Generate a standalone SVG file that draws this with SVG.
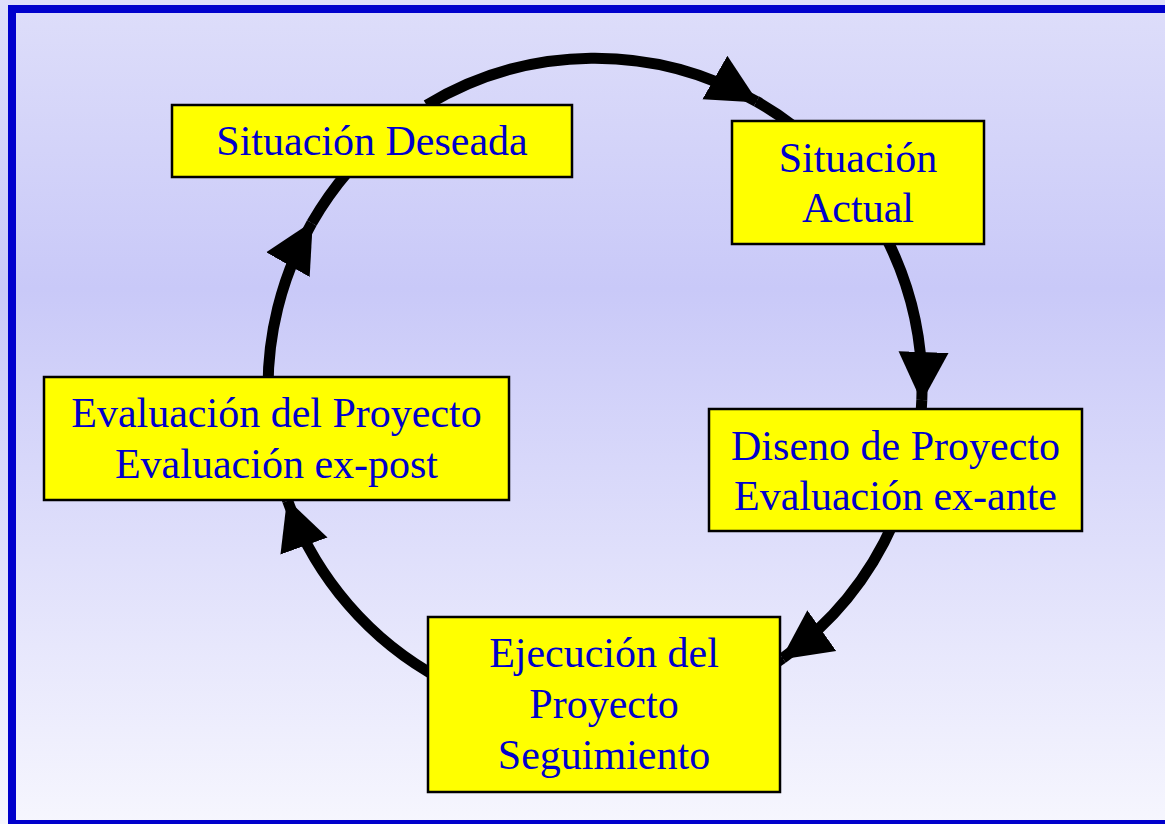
<svg xmlns="http://www.w3.org/2000/svg" width="1165" height="824" viewBox="0 0 1165 824">
  <defs>
    <linearGradient id="bg" x1="0" y1="0" x2="0" y2="1">
      <stop offset="0" stop-color="#dedefa"/>
      <stop offset="0.35" stop-color="#c9c9f8"/>
      <stop offset="1" stop-color="#f6f6fe"/>
    </linearGradient>
    <marker id="ah" markerUnits="userSpaceOnUse" markerWidth="52" markerHeight="52" viewBox="0 0 52 52" refX="48" refY="26" orient="auto">
      <path d="M0,1 L50,26 L0,51 Z" fill="#000"/>
    </marker>
    <style>
      .edge { fill: none; stroke: #000; stroke-width: 11; }
      .box { fill: #ffff00; stroke: #000; stroke-width: 2.5; }
      .lbl { font-family: "Liberation Serif", "Times New Roman", serif; font-size: 42px; fill: #0000cc; text-anchor: middle; }
    </style>
  </defs>
  <rect x="0" y="0" width="1165" height="824" fill="url(#bg)"/>
  <rect x="12" y="9" width="1160" height="815" fill="none" stroke="#0000cc" stroke-width="8"/>

  <g id="connectors">
    <g id="e1">
      <path class="edge" d="M426.6,105.1 A327,330 0 0 1 756.5,101.4" marker-end="url(#ah)"/>
      <path class="edge" d="M756.5,101.4 A327,330 0 0 1 796.3,128.0"/>
    </g>
    <g id="e2">
      <path class="edge" d="M886.4,238.2 A327,330 0 0 1 921.8,400.0" marker-end="url(#ah)"/>
      <path class="edge" d="M921.8,400.0 A327,330 0 0 1 920.2,422.5"/>
    </g>
    <g id="e3">
      <path class="edge" d="M893.7,522.2 A327,330 0 0 1 782.6,658.3" marker-end="url(#ah)"/>
      <path class="edge" d="M782.6,658.3 A327,330 0 0 1 768.3,667.9"/>
    </g>
    <g id="e4">
      <path class="edge" d="M441.5,679.4 A327,330 0 0 1 287.7,500.9" marker-end="url(#ah)"/>
      <path class="edge" d="M287.7,500.9 A327,330 0 0 1 280.7,479.0"/>
    </g>
    <g id="e5">
      <path class="edge" d="M268.2,399.5 A327,330 0 0 1 311.8,223.0" marker-end="url(#ah)"/>
      <path class="edge" d="M311.8,223.0 A327,330 0 0 1 393.7,128.0"/>
    </g>
  </g>

  <g id="n-deseada">
    <rect class="box" x="172" y="105" width="400" height="72"/>
    <text class="lbl" x="372" y="155">Situación Deseada</text>
  </g>
  <g id="n-actual">
    <rect class="box" x="732" y="121" width="252" height="123"/>
    <text class="lbl" x="858" y="172">Situación</text>
    <text class="lbl" x="858" y="222">Actual</text>
  </g>
  <g id="n-diseno">
    <rect class="box" x="709" y="409" width="373" height="122"/>
    <text class="lbl" x="895.5" y="460">Diseno de Proyecto</text>
    <text class="lbl" x="895.5" y="510">Evaluación ex-ante</text>
  </g>
  <g id="n-ejecucion">
    <rect class="box" x="428" y="617" width="352" height="175"/>
    <text class="lbl" x="604" y="667">Ejecución del</text>
    <text class="lbl" x="604" y="718">Proyecto</text>
    <text class="lbl" x="604" y="769">Seguimiento</text>
  </g>
  <g id="n-evaluacion">
    <rect class="box" x="44" y="377" width="465" height="123"/>
    <text class="lbl" x="276.5" y="427">Evaluación del Proyecto</text>
    <text class="lbl" x="276.5" y="478">Evaluación ex-post</text>
  </g>
</svg>
